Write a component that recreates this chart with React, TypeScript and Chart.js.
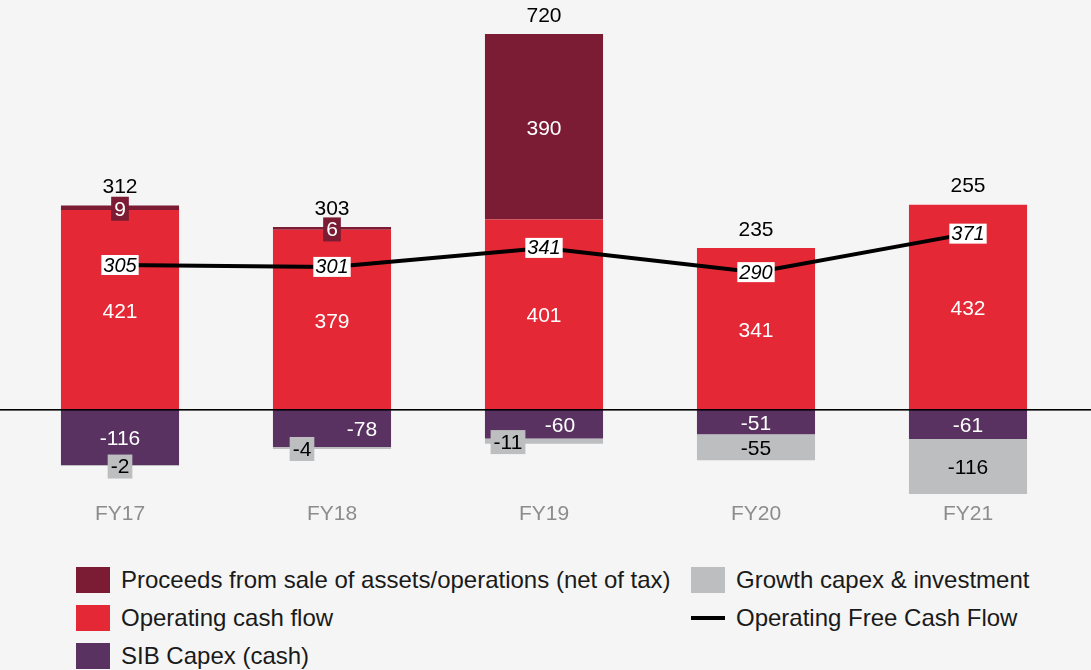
import React, { useEffect, useRef } from 'react';
import { Chart, registerables } from 'chart.js';

Chart.register(...registerables);

const categories = ['FY17', 'FY18', 'FY19', 'FY20', 'FY21'];
const operatingCashFlow = [421, 379, 401, 341, 432];
const proceedsFromSale = [9, 6, 390, null, null];
const sibCapex = [-116, -78, -60, -51, -61];
const growthCapex = [-2, -4, -11, -55, -116];
const operatingFreeCashFlow = [305, 301, 341, 290, 371];

const legendLabels = [
  'Proceeds from sale of assets/operations (net of tax)',
  'Operating cash flow',
  'SIB Capex (cash)',
  'Growth capex & investment',
  'Operating Free Cash Flow',
];

// styling (not data)
const sibLabelShiftX = [0, 30, 16, 0, 0];
const growthLabelShiftX = [0, -30, -36, 0, 0];

const RED = '#E52835';
const MAROON = '#7B1C34';
const PURPLE = '#5A3261';
const GREY = '#BDBEC0';
const BG = '#F5F5F5';
const FONT = '"Liberation Sans", Arial, sans-serif';

const labelsPlugin = {
  id: 'customLabels',
  afterDatasetsDraw(chart: any) {
    const ctx = chart.ctx;
    const yScale = chart.scales.y;
    const xScale = chart.scales.x;
    const zeroY = yScale.getPixelForValue(0);
    ctx.save();
    // zero line
    ctx.fillStyle = '#000';
    ctx.fillRect(0, Math.round(zeroY) - 1, chart.width, 1.6);

    const segs = [
      { idx: 0, text: '#fff', bg: RED, shift: [0, 0, 0, 0, 0] },
      { idx: 1, text: '#fff', bg: MAROON, shift: [0, 0, 0, 0, 0] },
      { idx: 2, text: '#fff', bg: PURPLE, shift: sibLabelShiftX },
      { idx: 3, text: '#000', bg: GREY, shift: growthLabelShiftX },
    ];
    ctx.font = `21px ${FONT}`;
    ctx.textAlign = 'center';
    ctx.textBaseline = 'middle';
    segs.forEach((s) => {
      const meta = chart.getDatasetMeta(s.idx);
      const data = chart.data.datasets[s.idx].data;
      meta.data.forEach((el: any, j: number) => {
        const v = data[j];
        if (v === null || v === undefined || v === 0) return;
        const top = Math.min(el.y, el.base);
        const bot = Math.max(el.y, el.base);
        const h = bot - top;
        const cy = (top + bot) / 2;
        const cx = el.x + s.shift[j];
        const label = String(v);
        if (h < 20) {
          const w = ctx.measureText(label).width + 6;
          ctx.fillStyle = s.bg;
          ctx.fillRect(cx - w / 2, cy - 11, w, 24);
        }
        ctx.fillStyle = s.text;
        ctx.fillText(label, cx, cy + 2);
      });
    });

    // totals
    ctx.fillStyle = '#000';
    categories.forEach((_, j) => {
      const total =
        operatingCashFlow[j] + (proceedsFromSale[j] || 0) + sibCapex[j] + growthCapex[j];
      const topVal = operatingCashFlow[j] + (proceedsFromSale[j] || 0);
      const y = yScale.getPixelForValue(topVal) - 18;
      ctx.fillText(String(total), xScale.getPixelForValue(j), y);
    });

    // line labels
    const lineMeta = chart.getDatasetMeta(4);
    ctx.font = `italic 20px ${FONT}`;
    lineMeta.data.forEach((pt: any, j: number) => {
      const label = String(operatingFreeCashFlow[j]);
      const w = ctx.measureText(label).width + 4;
      ctx.fillStyle = '#fff';
      ctx.fillRect(pt.x - w / 2, pt.y - 10, w, 20);
      ctx.fillStyle = '#000';
      ctx.fillText(label, pt.x, pt.y + 1);
    });

    // category labels
    ctx.font = `21px ${FONT}`;
    ctx.fillStyle = '#8C8C8C';
    categories.forEach((c, j) => {
      ctx.fillText(c, xScale.getPixelForValue(j), 514);
    });
    ctx.restore();
  },
};

function ChartView() {
  const ref = useRef<HTMLCanvasElement>(null);
  useEffect(() => {
    if (!ref.current) return;
    const chart = new Chart(ref.current, {
      type: 'bar',
      data: {
        labels: categories,
        datasets: [
          { label: legendLabels[1], data: operatingCashFlow, backgroundColor: RED, stack: 'bars', order: 1 },
          { label: legendLabels[0], data: proceedsFromSale as any, backgroundColor: MAROON, stack: 'bars', order: 1 },
          { label: legendLabels[2], data: sibCapex, backgroundColor: PURPLE, stack: 'bars', order: 1 },
          { label: legendLabels[3], data: growthCapex, backgroundColor: GREY, stack: 'bars', order: 1 },
          {
            type: 'line',
            label: legendLabels[4],
            data: operatingFreeCashFlow,
            borderColor: '#000',
            borderWidth: 4,
            pointRadius: 0,
            tension: 0,
            fill: false,
            stack: 'line',
            order: 0,
          } as any,
        ],
      },
      options: {
        responsive: false,
        animation: false,
        devicePixelRatio: 1,
        layout: { padding: { top: 6, bottom: 35, left: 14, right: 17 } },
        datasets: { bar: { categoryPercentage: 1, barPercentage: 0.557, borderWidth: 0 } },
        plugins: { legend: { display: false }, tooltip: { enabled: false } },
        scales: {
          x: { display: false, stacked: true, offset: true },
          y: { display: false, stacked: true, min: -200, max: 850 },
        },
      },
      plugins: [labelsPlugin],
    });
    return () => chart.destroy();
  }, []);
  return <canvas ref={ref} width={1091} height={540} style={{ position: 'absolute', left: 0, top: 0 }} />;
}

function LegendItem({ x, y, color, line, text }: { x: number; y: number; color: string; line?: boolean; text: string }) {
  return (
    <div style={{ position: 'absolute', left: x, top: y - 19, height: 38, display: 'flex', alignItems: 'center' }}>
      {line ? (
        <div style={{ width: 34, height: 3.5, background: color }} />
      ) : (
        <div style={{ width: 34, height: 26, background: color }} />
      )}
      <span style={{ marginLeft: 11, fontFamily: FONT, fontSize: 24, color: '#1A1A1A', whiteSpace: 'nowrap' }}>{text}</span>
    </div>
  );
}

export default function App() {
  return (
    <div style={{ position: 'fixed', left: 0, top: 0, width: 1091, height: 670, background: BG, overflow: 'hidden' }}>
      <ChartView />
      <LegendItem x={76} y={580} color={MAROON} text={legendLabels[0]} />
      <LegendItem x={76} y={618} color={RED} text={legendLabels[1]} />
      <LegendItem x={76} y={656} color={PURPLE} text={legendLabels[2]} />
      <LegendItem x={691} y={580} color={GREY} text={legendLabels[3]} />
      <LegendItem x={691} y={618} color={'#000'} line text={legendLabels[4]} />
    </div>
  );
}
